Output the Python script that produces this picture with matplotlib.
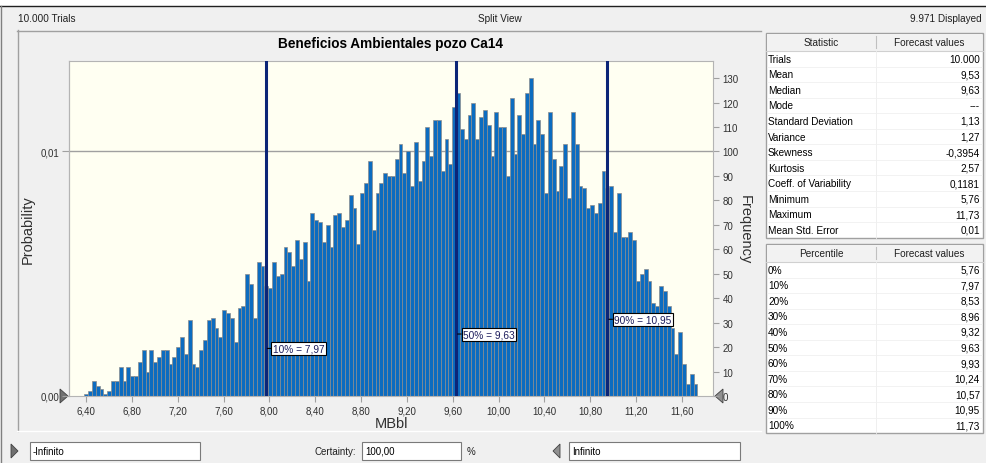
import matplotlib
matplotlib.use('Agg')
import matplotlib.pyplot as plt
from matplotlib.patches import Rectangle, Polygon
import numpy as np

W, H = 987, 464
UI = 'Liberation Sans'
plt.rcParams['font.family'] = UI

# forecast histogram (frequency per bin)
freq = [1, 2, 6, 4, 3, 1, 2, 6, 6, 12,
        6, 12, 8, 8, 14, 19, 10, 19, 14, 16,
        19, 19, 13, 16, 20, 24, 17, 31, 13, 12,
        19, 23, 31, 32, 28, 24, 35, 34, 32, 22,
        36, 37, 50, 46, 32, 55, 53, 45, 44, 55,
        49, 50, 61, 59, 53, 64, 56, 63, 47, 75,
        72, 71, 63, 70, 61, 74, 75, 69, 72, 82,
        77, 62, 83, 87, 96, 68, 83, 87, 91, 90,
        90, 97, 103, 91, 100, 86, 104, 88, 96, 110,
        98, 113, 113, 92, 105, 95, 118, 124, 109, 105,
        115, 120, 105, 114, 117, 111, 98, 116, 110, 110,
        90, 122, 99, 115, 107, 124, 130, 103, 113, 107,
        83, 116, 97, 84, 94, 103, 81, 116, 103, 86,
        85, 77, 78, 75, 79, 92, 85, 86, 67, 83,
        65, 65, 67, 64, 47, 50, 52, 47, 38, 37,
        45, 43, 37, 28, 17, 26, 13, 5, 9, 5]
bin_start = 6.385
bin_width = 0.03344

trials = 10000
displayed = 9971

x_ticks = [6.40, 6.80, 7.20, 7.60, 8.00, 8.40, 8.80, 9.20, 9.60, 10.00, 10.40, 10.80, 11.20, 11.60]
freq_ticks = list(range(0, 131, 10))
prob_ticks = [0.00, 0.01]

stat_names = ['Trials', 'Mean', 'Median', 'Mode', 'Standard Deviation', 'Variance',
              'Skewness', 'Kurtosis', 'Coeff. of Variability', 'Minimum', 'Maximum',
              'Mean Std. Error']
stat_values = ['10.000', '9,53', '9,63', '---', '1,13', '1,27', '-0,3954', '2,57',
               '0,1181', '5,76', '11,73', '0,01']

pct_names = ['0%', '10%', '20%', '30%', '40%', '50%', '60%', '70%', '80%', '90%', '100%']
pct_values = [5.76, 7.97, 8.53, 8.96, 9.32, 9.63, 9.93, 10.24, 10.57, 10.95, 11.73]
marked = [1, 5, 9]          # percentiles drawn on the chart
marked_y = [0.142, 0.185, 0.229]


def comma(v, d=2):
    return f'{v:.{d}f}'.replace('.', ',')


fig = plt.figure(figsize=(W / 100, H / 100), dpi=100)
fig.patch.set_facecolor('#f0f0f0')

bg = fig.add_axes([0, 0, 1, 1])
bg.set_xlim(0, W)
bg.set_ylim(H, 0)
bg.axis('off')


def px_axes(x0, y0, x1, y1):
    return fig.add_axes([x0 / W, 1 - y1 / H, (x1 - x0) / W, (y1 - y0) / H])


# window chrome
bg.add_patch(Rectangle((0, 0), W, 7, color='white', lw=0))
bg.plot([0, W], [7, 7], color='#202020', lw=1)
bg.plot([1, 1], [7, H], color='#808080', lw=1)
bg.text(18, 19, f'{trials:,}'.replace(',', '.') + ' Trials', fontsize=7.2, va='center', color='#202020')
bg.text(500, 19, 'Split View', fontsize=7.2, va='center', ha='center', color='#202020')
bg.text(982, 19, f'{displayed:,}'.replace(',', '.') + ' Displayed', fontsize=7.2, va='center', ha='right', color='#202020')

# chart panel frame
bg.plot([17, 761], [31.5, 31.5], color='#a0a0a0', lw=1)
bg.plot([17.5, 17.5], [31, 432], color='#a0a0a0', lw=1)
bg.plot([17, 761], [432, 432], color='#ffffff', lw=1)

bg.text(391, 44, 'Beneficios Ambientales pozo Ca14', fontsize=9.8, fontweight='bold',
        ha='center', va='center', color='#000000')

# main histogram
ax = px_axes(69, 62, 713, 397)
ax.set_facecolor('#fffff2')
edges = bin_start + bin_width * np.arange(len(freq))
ax.bar(edges, freq, width=bin_width, align='edge', color='#0c6cc0',
       edgecolor='#8c8c8c', linewidth=0.5, zorder=2)
ax.set_xlim(6.2517, 11.871)
ax.set_ylim(0, 137)
ax.axhline(prob_ticks[1] * trials, color='#a0a0a0', lw=1, zorder=1)

for s in ax.spines.values():
    s.set_color('#b4b4b4')
    s.set_linewidth(0.8)

ax.yaxis.tick_right()
ax.set_yticks(freq_ticks)
ax.set_yticklabels([str(t) for t in freq_ticks])
ax.tick_params(axis='y', direction='out', length=4, width=0.8, color='#a0a0a0',
               labelsize=7, labelcolor='#303030', pad=3)
ax.set_xticks(x_ticks)
ax.set_xticklabels([comma(t) for t in x_ticks])
ax.tick_params(axis='x', direction='out', length=4, width=0.8, color='#a0a0a0',
               labelsize=7, labelcolor='#303030', pad=3)
ax.set_xlabel('MBbl', fontsize=10.5, color='#303030', labelpad=0)
ax.yaxis.set_label_position('right')
ax.set_ylabel('Frequency', fontsize=10.5, color='#303030', rotation=270, labelpad=9)

prob = ax.secondary_yaxis('left', functions=(lambda f: f / trials, lambda p: p * trials))
prob.set_yticks(prob_ticks)
prob.set_yticklabels([comma(p) for p in prob_ticks])
prob.tick_params(direction='out', length=5, width=0.8, color='#a0a0a0',
                 labelsize=7, labelcolor='#303030', pad=2)
prob.spines['left'].set_color('#b4b4b4')
prob.set_ylabel('Probability', fontsize=10.5, color='#303030', labelpad=4)

for i, yf in zip(marked, marked_y):
    v = pct_values[i]
    ax.axvline(v, color='#0c2577', lw=2.2, zorder=3)
    ax.annotate(f'{pct_names[i]} = {comma(v)}', xy=(v, yf), xycoords=ax.get_xaxis_transform(),
                xytext=(5, 0), textcoords='offset points', ha='left', va='center',
                fontsize=7.3, color='#1c1c5c', zorder=4,
                arrowprops=dict(arrowstyle='-', color='black', lw=0.8, shrinkA=0, shrinkB=1),
                bbox=dict(boxstyle='square,pad=0.15', facecolor='white', edgecolor='black', lw=0.8))

# grabbers on the axis
bg.add_patch(Polygon([[60, 390], [60, 404], [68, 397]], closed=True, facecolor='#707070', edgecolor='#404040', lw=0.6, zorder=5))
bg.add_patch(Polygon([[723, 390], [723, 404], [715, 397]], closed=True, facecolor='#909090', edgecolor='#404040', lw=0.6, zorder=5))


# statistics tables
def table(x0, x1, y0, hdr_h, row_h, headers, names, values, xdiv=876):
    n = len(names)
    y1 = y0 + hdr_h + n * row_h
    bg.add_patch(Rectangle((x0, y0), x1 - x0, y1 - y0, facecolor='white', edgecolor='#a0a0a0', lw=1))
    bg.add_patch(Rectangle((x0 + 1, y0 + 1), x1 - x0 - 2, hdr_h - 1, facecolor='#f2f2f2', edgecolor='none'))
    bg.plot([x0, x1], [y0 + hdr_h, y0 + hdr_h], color='#d0d0d0', lw=0.8)
    bg.plot([xdiv, xdiv], [y0 + 3, y0 + hdr_h - 3], color='#c0c0c0', lw=0.8)
    bg.plot([xdiv, xdiv], [y0 + hdr_h, y1], color='#ededed', lw=0.6)
    bg.text((x0 + xdiv) / 2, y0 + hdr_h / 2, headers[0], fontsize=7.2, ha='center', va='center', color='#202020')
    bg.text((xdiv + x1) / 2, y0 + hdr_h / 2, headers[1], fontsize=7.2, ha='center', va='center', color='#202020')
    for k in range(n):
        yc = y0 + hdr_h + (k + 0.5) * row_h
        if k:
            bg.plot([x0 + 1, x1 - 1], [yc - row_h / 2] * 2, color='#f0f0f0', lw=0.6)
        bg.text(x0 + 2, yc, names[k], fontsize=7.2, ha='left', va='center', color='#000000')
        bg.text(x1 - 3, yc, values[k], fontsize=7.2, ha='right', va='center', color='#000000')


table(766, 983, 34, 18, 15.55, ['Statistic', 'Forecast values'], stat_names, stat_values)
table(766, 983, 245, 18, 15.55, ['Percentile', 'Forecast values'], pct_names,
      [comma(v) for v in pct_values])

# certainty controls
for x0, x1, txt in [(30, 200, '-Infinito'), (362, 461, '100,00'), (569, 740, 'Infinito')]:
    bg.add_patch(Rectangle((x0, 443), x1 - x0, 18, facecolor='white', edgecolor='#7a7a7a', lw=0.8))
    bg.text(x0 + 3, 452, txt, fontsize=7, va='center', ha='left', color='#000000')
bg.text(356, 452, 'Certainty:', fontsize=7, va='center', ha='right', color='#202020')
bg.text(467, 452, '%', fontsize=7, va='center', ha='left', color='#202020')
bg.add_patch(Polygon([[11, 445], [11, 459], [18, 452]], closed=True, facecolor='#707070', edgecolor='#404040', lw=0.6))
bg.add_patch(Polygon([[560, 445], [560, 459], [553, 452]], closed=True, facecolor='#909090', edgecolor='#404040', lw=0.6))

fig.savefig('out.png', dpi=100, facecolor=fig.get_facecolor())
